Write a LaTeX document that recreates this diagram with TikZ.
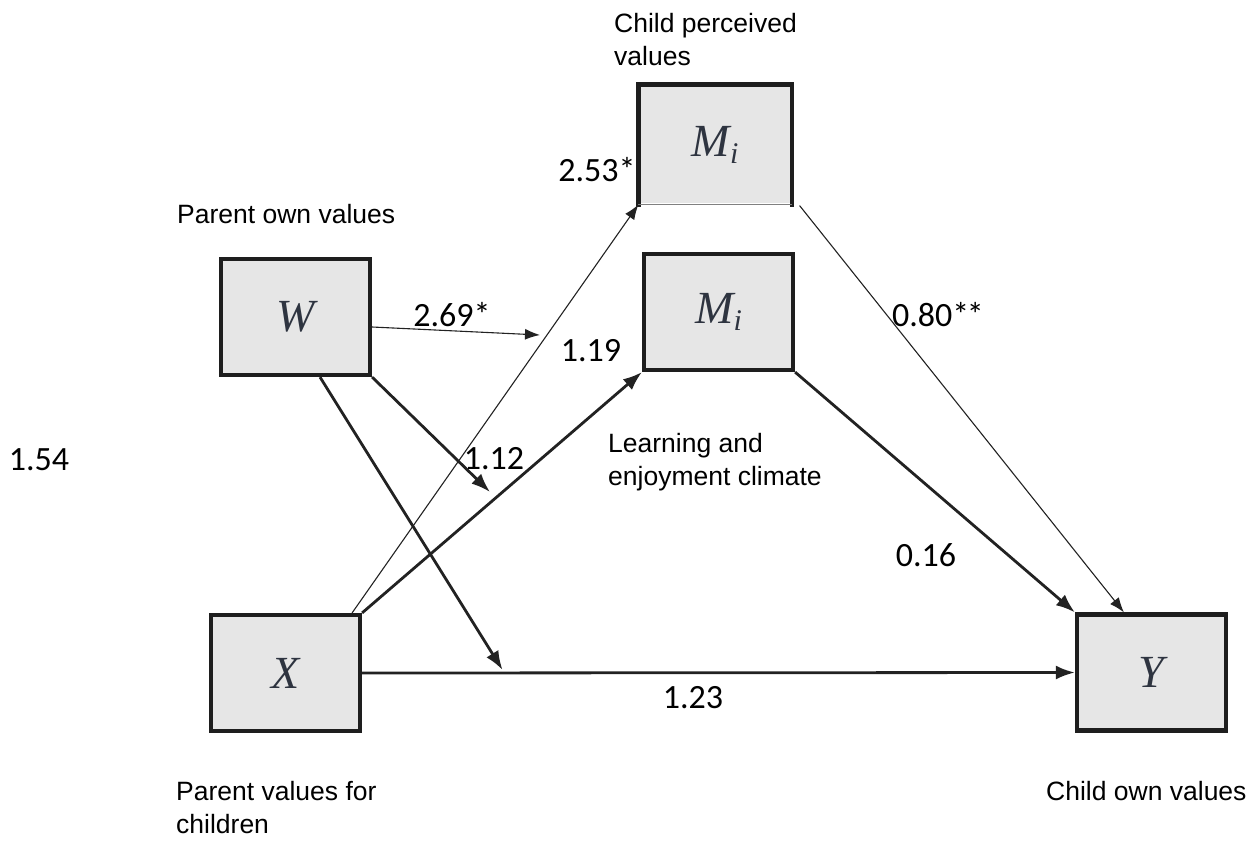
\documentclass[tikz,border=0pt]{standalone}
\usepackage{fontspec}
\setmainfont{Liberation Sans}
\newfontfamily\numfont{Carlito}
\newfontfamily\varfont{Liberation Serif}
\usetikzlibrary{arrows.meta,calc}

\definecolor{boxline}{HTML}{1E1E1E}
\definecolor{boxfill}{HTML}{E6E6E6}
\definecolor{ink}{HTML}{222222}
\definecolor{varink}{HTML}{2E3440}

\newcommand{\varM}{M\raisebox{-7pt}{\fontsize{30}{30}\selectfont\itshape i}}
\newcommand{\twostar}{*\kern-2.5pt*}

\begin{document}
\begin{tikzpicture}[x=1pt,y=-1pt,
  varbox/.style={draw=boxline, line width=4.2pt, fill=boxfill,
    minimum width=149pt, minimum height=116pt, inner sep=0pt,
    font=\varfont\itshape\fontsize{46}{46}\selectfont, text=varink},
  plainbox/.style={varbox, draw=none},
  caption/.style={anchor=north west, inner sep=0pt, align=left,
    font=\fontsize{26.5}{33.5}\selectfont, text=black},
  coef/.style={inner sep=0pt, font=\numfont\fontsize{34}{34}\selectfont, text=black},
  thinarr/.style={draw=ink, line width=1.1pt, -{Latex[length=15pt,width=11pt]}},
  thickarr/.style={draw=ink, line width=2.8pt, -{Latex[length=19pt,width=14pt]}}
]
\useasboundingbox (0,0) rectangle (1250,841);

% variable boxes
\node[plainbox] (Mt) at (715,144.5) {\varM};
\draw[boxline, line width=4.2pt, line cap=rect]
  (Mt.south west) -- (Mt.north west) -- (Mt.north east) -- (Mt.south east);
\draw[gray, line width=1.2pt] (Mt.south west) -- (Mt.south east);
\node[varbox] (W)  at (295.5,317) {W};
\node[varbox] (Mm) at (718.5,312) {\varM};
\node[varbox] (X)  at (285.5,673) {X};
\node[varbox] (Y)  at (1151.5,672.5) {Y};

% captions
\node[caption] (capMt) at (614,13) {Child perceived\\values};
\node[caption] (capW)  at (177,204) {Parent own values};
\node[caption] (capMm) at (608,433) {Learning and\\enjoyment climate};
\node[caption] (capX)  at (176,781) {Parent values for\\children};
\node[caption] (capY)  at (1046,781) {Child own values};

% points where moderating paths meet other paths
\coordinate (wstart)  at ($(W.south west)!0.66!(W.south east)$);
\coordinate (xyhit)   at ($(X.east)!0.197!(Y.west)+(0,-3)$);
\coordinate (hit112)  at (490,492);
\coordinate (wright)  at ($(W.east)+(0,10)$);
\coordinate (hit269)  at (540,335);
\coordinate (xthin)   at ($(X.north east)+(-10,0)$);
\coordinate (mtstart) at ($(Mt.south east)+(8,1)$);
\coordinate (ytop)    at ($(Y.north west)!0.32!(Y.north east)$);

% paths
\draw[thickarr] (X.east) -- (Y.west);
\draw[thickarr] (wstart) -- (xyhit);
\draw[thickarr] (W.south east) -- (hit112);
\draw[thinarr]  (wright) -- (hit269);
\draw[thinarr]  (xthin) -- (Mt.south west);
\draw[thickarr] (X.north east) -- (Mm.south west);
\draw[thickarr] (Mm.south east) -- (Y.north west);
\draw[thinarr]  (mtstart) -- (ytop);

% coefficients
\node[coef] (c253) at (597,170) {2.53*};
\node[coef] (c269) at (452,315) {2.69*};
\node[coef] (c119) at (591,351) {1.19};
\node[coef] (c112) at (494,459) {1.12};
\node[coef] (c154) at (39,460) {1.54};
\node[coef] (c080) at (938,315) {0.80\twostar};
\node[coef] (c016) at (926,555) {0.16};
\node[coef] (c123) at (693,698) {1.23};
\end{tikzpicture}
\end{document}
